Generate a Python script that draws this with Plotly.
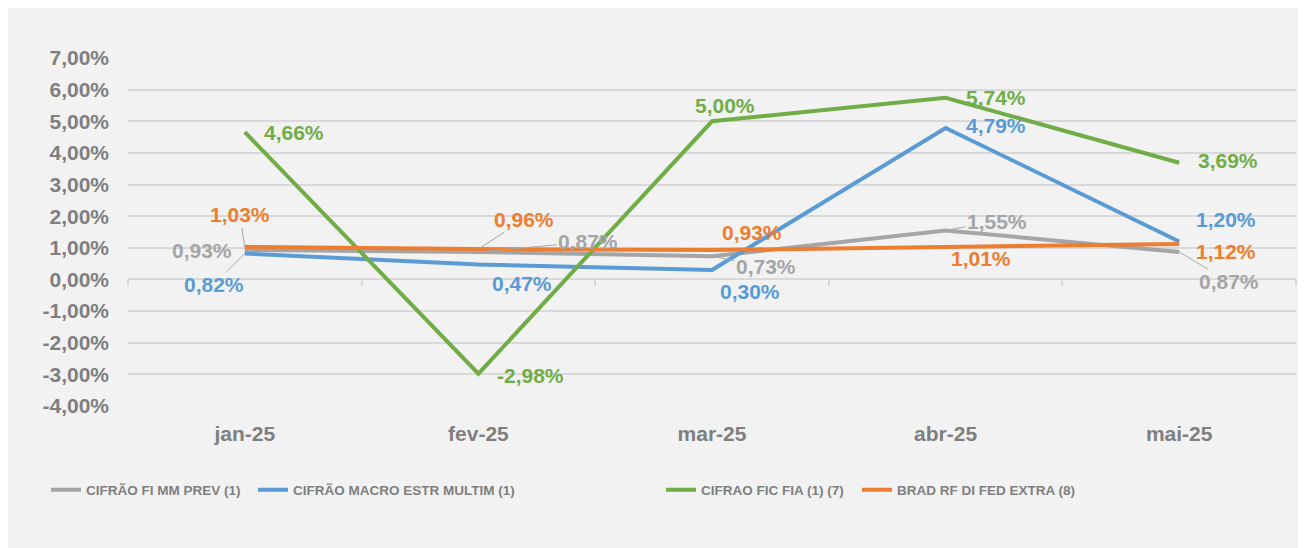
import plotly.graph_objects as go

# ---------------- data ----------------
categories = ["jan-25", "fev-25", "mar-25", "abr-25", "mai-25"]
series_names = [
    "CIFRÃO FI MM PREV (1)",
    "CIFRÃO MACRO ESTR MULTIM (1)",
    "CIFRAO FIC FIA (1) (7)",
    "BRAD RF DI FED EXTRA (8)",
]
cifrao_mm_prev = [0.93, 0.87, 0.73, 1.55, 0.87]
cifrao_macro = [0.82, 0.47, 0.30, 4.79, 1.20]
cifrao_fic_fia = [4.66, -2.98, 5.00, 5.74, 3.69]
brad_rf_di = [1.03, 0.96, 0.93, 1.01, 1.12]
y_ticks = [-4, -3, -2, -1, 0, 1, 2, 3, 4, 5, 6, 7]
y_tick_text = [f"{t:.2f}%".replace(".", ",") for t in y_ticks]

# ---------------- styles ----------------
colors = ["#a5a5a5", "#5b9bd5", "#70ad47", "#ed7d31"]
FONT = "Arial, Liberation Sans, sans-serif"
TXT = "#7f7f7f"
values_all = [cifrao_mm_prev, cifrao_macro, cifrao_fic_fia, brad_rf_di]

# label offsets (px, dy positive = down) and leader flags per series
label_offsets = [
    [(-43, 0), (110, -10), (54, 10), (51, -9), (50, 30)],
    [(-31, 31), (44, 19), (38, 22), (50, -2), (47, -22)],
    [(49, 0), (52, 2), (13, -16), (50, 0), (49, -2)],
    [(-5, -32), (46, -30), (40, -18), (35, 11), (47, 7)],
]
leaders = [
    [False, True, True, True, True],
    [True, False, False, False, False],
    [False, False, False, False, False],
    [True, True, False, False, False],
]

fig = go.Figure()
legend_ids = ["legend", "legend2", "legend3", "legend4"]
for i, (name, vals) in enumerate(zip(series_names, values_all)):
    fig.add_trace(go.Scatter(
        x=categories, y=vals, mode="lines", name=name,
        line=dict(color=colors[i], width=4),
        legend=legend_ids[i], hoverinfo="skip",
    ))

# helper axis to draw the category tick marks at the zero line
fig.add_trace(go.Scatter(
    x=list(range(len(categories))), y=cifrao_mm_prev, xaxis="x2",
    mode="lines", line=dict(width=0, color="rgba(0,0,0,0)"),
    showlegend=False, hoverinfo="skip",
))

LABEL_SIZE = 21
annotations = []
for i, vals in enumerate(values_all):
    for j, v in enumerate(vals):
        dx, dy = label_offsets[i][j]
        txt = f"{v:.2f}%".replace(".", ",")
        font = dict(family=FONT, size=LABEL_SIZE, color=colors[i], weight="bold")
        if leaders[i][j]:
            annotations.append(dict(
                x=categories[j], y=v, xref="x", yref="y", text=txt,
                showarrow=True, ax=dx, ay=dy, arrowhead=0, arrowwidth=1,
                arrowcolor="#a6a6a6", standoff=0, font=font,
            ))
        else:
            annotations.append(dict(
                x=categories[j], y=v, xref="x", yref="y", text=txt,
                showarrow=False, xshift=dx, yshift=-dy, font=font,
            ))

# page offset (body margin) of 8px; target plot area in window px: x 128..1296, y 58..406
OFF = 8
W, H = 1306, 548
L, T = 128 - OFF, 58 - OFF
R = W - (1296 - OFF)
B = H - (406 - OFF)
pw, ph = W - L - R, H - T - B

def px_x(p):
    return (p - OFF - L) / pw

def px_y(p):
    return (H - B - (p - OFF)) / ph

legend_starts = [46, 253, 661, 857]
legend_cfg = {}
for k, lid in enumerate(legend_ids):
    legend_cfg[lid] = dict(
        x=px_x(legend_starts[k]), xanchor="left", y=px_y(490), yanchor="middle",
        orientation="h", bgcolor="rgba(0,0,0,0)",
        font=dict(family=FONT, size=13.5, color=TXT, weight="bold"),
    )

fig.update_layout(
    width=W, height=H,
    margin=dict(l=L, r=R, t=T, b=B),
    paper_bgcolor="#f2f2f2", plot_bgcolor="rgba(0,0,0,0)",
    showlegend=True,
    annotations=annotations,
    xaxis=dict(
        type="category", categoryorder="array", categoryarray=categories,
        range=[-0.5, len(categories) - 0.5], showgrid=False, zeroline=False,
        showline=False, ticks="", ticklabelstandoff=13,
        tickfont=dict(family=FONT, size=LABEL_SIZE, color=TXT, weight="bold"),
    ),
    xaxis2=dict(
        overlaying="x", anchor="free",
        position=(0 - y_ticks[0]) / (y_ticks[-1] - y_ticks[0]),
        range=[-0.5, len(categories) - 0.5],
        tickvals=[k - 0.5 for k in range(len(categories) + 1)],
        ticks="outside", ticklen=6, tickwidth=1.5, tickcolor="#d9d9d9",
        showticklabels=False, showgrid=False, zeroline=False, showline=False,
    ),
    yaxis=dict(
        range=[y_ticks[0], y_ticks[-1]], tickvals=y_ticks, ticktext=y_tick_text,
        showgrid=True, gridcolor="#d9d9d9", gridwidth=1.5,
        zeroline=True, zerolinecolor="#d9d9d9", zerolinewidth=1.5,
        showline=False, ticks="", ticklabelstandoff=18,
        tickfont=dict(family=FONT, size=LABEL_SIZE, color=TXT, weight="bold"),
    ),
    **legend_cfg,
)

fig.write_html("out.html")
